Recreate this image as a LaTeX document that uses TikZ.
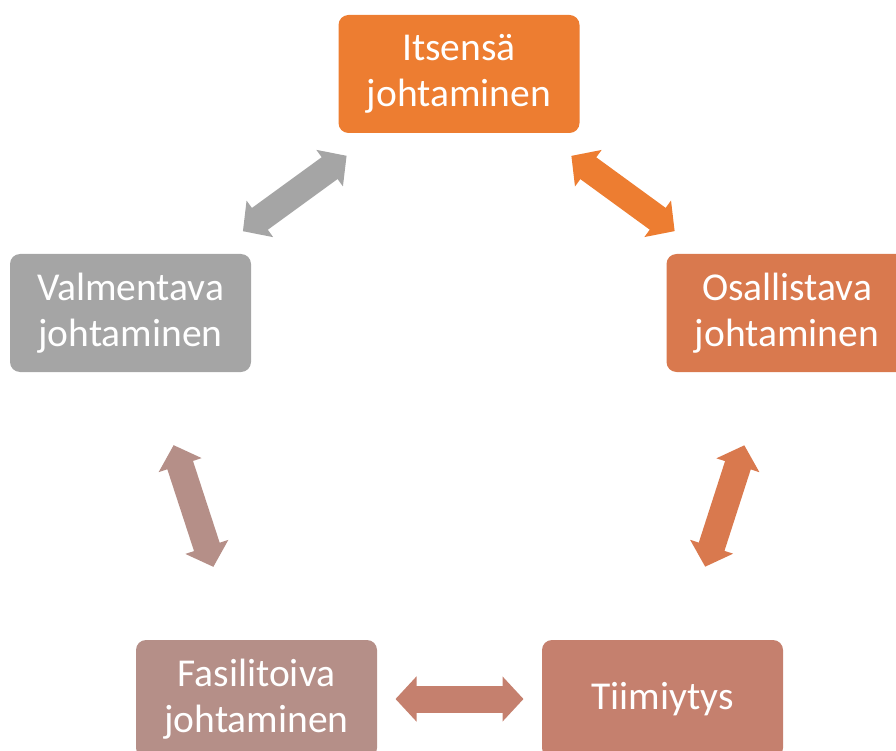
\documentclass[tikz,border=0pt]{standalone}
\usepackage{fontspec}
\setmainfont{Carlito}
\usetikzlibrary{arrows.meta}
\definecolor{cItse}{HTML}{ED7D31}
\definecolor{cOsal}{HTML}{D9794E}
\definecolor{cTiim}{HTML}{C5806E}
\definecolor{cFasi}{HTML}{B58F88}
\definecolor{cValm}{HTML}{A5A5A5}
\tikzset{
  boxnode/.style={draw=none, rounded corners=10pt, minimum width=241pt, minimum height=118pt,
    text=white, align=center, inner sep=0pt, font=\fontsize{39.5}{45.5}\selectfont},
  dblarrow/.style={line width=27pt, shorten <=139pt, shorten >=139pt,
    {Triangle[length=21pt,width=44pt]}-{Triangle[length=21pt,width=44pt]}}
}
\begin{document}
\begin{tikzpicture}[x=1pt,y=-1pt]
\useasboundingbox (0,0) rectangle (896,751);
\begin{scope}
\clip (0,0) rectangle (896,751);
\node[boxnode, fill=cItse] (its) at (459,74) {Itsensä\\johtaminen};
\node[boxnode, fill=cOsal] (osa) at (787,313) {Osallistava\\johtaminen};
\node[boxnode, fill=cTiim] (tii) at (662.5,699) {Tiimiytys};
\node[boxnode, fill=cFasi] (fas) at (256.5,699) {Fasilitoiva\\johtaminen};
\node[boxnode, fill=cValm] (val) at (130.5,313) {Valmentava\\johtaminen};
\draw[dblarrow, cItse] (its.center) -- (osa.center);
\draw[dblarrow, cOsal] (osa.center) -- (tii.center);
\draw[dblarrow, cTiim] (tii.center) -- (fas.center);
\draw[dblarrow, cFasi] (fas.center) -- (val.center);
\draw[dblarrow, cValm] (val.center) -- (its.center);
\end{scope}
\end{tikzpicture}
\end{document}
